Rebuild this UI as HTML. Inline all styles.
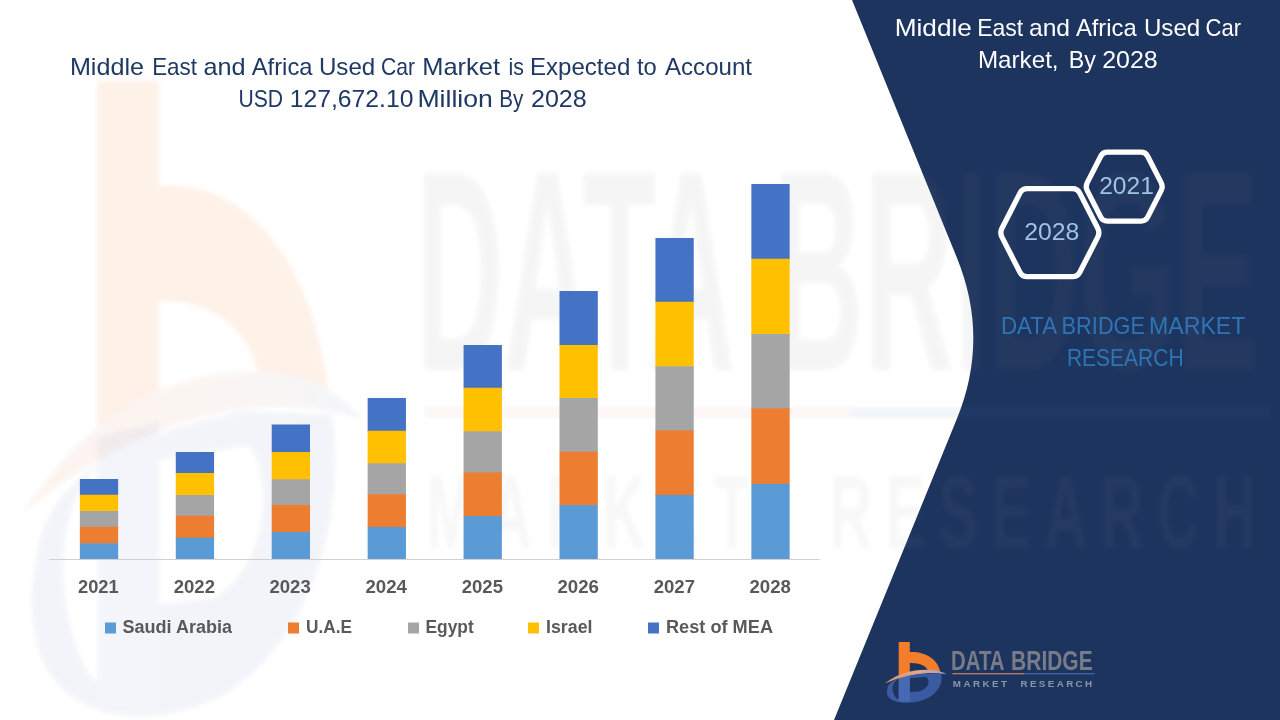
<!DOCTYPE html>
<html lang="en">
<head>
<meta charset="utf-8">
<title>Middle East and Africa Used Car Market</title>
<style>
html,body{margin:0;padding:0;background:#fff;}
body{width:1280px;height:720px;overflow:hidden;font-family:"Liberation Sans",sans-serif;}
svg{display:block;}
text{font-family:"Liberation Sans",sans-serif;}
.ttl{font-size:24px;fill:#1F3864;}
.ax text{font-size:17.5px;font-weight:bold;fill:#595959;}
.lg text{font-size:17.5px;font-weight:bold;fill:#595959;}
.rt{font-size:24px;fill:#ffffff;}
.hx{font-size:23.3px;fill:#9DC3E6;}
.db{font-size:24px;fill:#2E75B6;}
</style>
</head>
<body>
<svg width="1280" height="720" viewBox="0 0 1280 720">
<rect width="1280" height="720" fill="#ffffff"/>
<defs>
<linearGradient id="swg" x1="0" y1="0" x2="1" y2="0"><stop offset="0" stop-color="#E89268"/><stop offset="0.55" stop-color="#DDA68E"/><stop offset="1" stop-color="#9AA6C4"/></linearGradient>
<filter id="wblur" x="-2%" y="-2%" width="104%" height="104%"><feGaussianBlur stdDeviation="0.35 0.2"/></filter>
<filter id="wblur2" x="-2%" y="-2%" width="104%" height="104%"><feColorMatrix type="saturate" values="0.15"/><feGaussianBlur stdDeviation="0.35 0.2"/></filter>
<g id="markb">
<path fill-rule="evenodd" d="M887.5,688 C889,680 903,676 925,673.5 L941,673.8 C943.5,683 938,695 922,700.5 C908,704.5 893,703 888.5,697 C886.5,694 886.5,691 887.5,688 Z M909.8,678.2 L909.8,692 L920,691.3 C929.5,688 930.5,680 926,676.8 Z M892.8,686 C891.8,691 894,697 898.7,699.5 L898.7,679 C896,680 894,682 892.8,686 Z" fill="#3A5AA2"/>
<path d="M898.7,676 L909.8,674.5 L909.8,701.5 L898.7,701.8 Z" fill="#4769B4"/>
</g>
<g id="marko">
<path d="M898.7,641.9 H909.8 V652 C925,651.2 938,659 940.4,672.4 L928.4,671.6 C927,666 920,662.8 909.8,663 V673.8 L898.7,675.6 Z" fill="#F47D2C"/>
<path d="M885,683.4 Q903,668.8 930,669.8 Q940,670.3 946.5,674.3 Q938,672.9 928,673.1 Q905,674.4 885,683.4 Z" fill="url(#swg)"/>
</g>
<g id="lline">
<rect x="952.5" y="673.2" width="71.5" height="1.1" fill="#DE876C"/>
<rect x="1024" y="673.2" width="70.6" height="1.1" fill="#4A6DB5"/>
</g>
<g id="ltxt" font-family="'Liberation Sans',sans-serif">
<text x="951" y="669.75" font-size="26.9" font-weight="bold" fill="#787C89" textLength="53.6" lengthAdjust="spacingAndGlyphs">DATA</text>
<text x="1011.1" y="669.75" font-size="26.9" font-weight="bold" fill="#787C89" textLength="81.6" lengthAdjust="spacingAndGlyphs">BRIDGE</text>
<text x="952.75" y="686.5" font-size="9.8" font-weight="bold" fill="#8C95AA" textLength="54.25" lengthAdjust="spacing">MARKET</text>
<text x="1020.5" y="686.5" font-size="9.8" font-weight="bold" fill="#8C95AA" textLength="71.6" lengthAdjust="spacing">RESEARCH</text>
</g>
</defs>
<!-- right navy panel -->
<path id="panel" d="M852,0 L957,258 Q989.7,338.4 956.9,418.8 L834,720 L1280,720 L1280,0 Z" fill="#1D345E"/>
<use href="#markb" transform="matrix(5.55,0,0,10.45,-4890.3,-6627)" opacity="0.06" filter="url(#wblur)"/>
<use href="#marko" transform="matrix(5.55,0,0,10.45,-4890.3,-6627)" opacity="0.1" filter="url(#wblur)"/>
<use href="#ltxt" transform="matrix(5.95,0,0,10.63,-5242.4,-6749.4)" opacity="0.065" filter="url(#wblur2)"/>
<use href="#lline" transform="matrix(5.95,0,0,10.63,-5242.4,-6749.4)" opacity="0.07" filter="url(#wblur)"/>
<g opacity="0.999">
<!-- chart title -->
<text class="ttl" y="74.7"><tspan x="69.91" textLength="74.13" lengthAdjust="spacingAndGlyphs">Middle</tspan> <tspan x="152.2" textLength="44.8" lengthAdjust="spacingAndGlyphs">East</tspan> <tspan x="203.47" textLength="42.11" lengthAdjust="spacingAndGlyphs">and</tspan> <tspan x="251.75" textLength="60.76" lengthAdjust="spacingAndGlyphs">Africa</tspan> <tspan x="318.95" textLength="56.35" lengthAdjust="spacingAndGlyphs">Used</tspan> <tspan x="380.97" textLength="34.03" lengthAdjust="spacingAndGlyphs">Car</tspan> <tspan x="422.22" textLength="77.78" lengthAdjust="spacingAndGlyphs">Market</tspan> <tspan x="508.41" textLength="15.38" lengthAdjust="spacingAndGlyphs">is</tspan> <tspan x="529.92" textLength="100.39" lengthAdjust="spacingAndGlyphs">Expected</tspan> <tspan x="637.0" textLength="19.76" lengthAdjust="spacingAndGlyphs">to</tspan> <tspan x="665.0" textLength="87.0" lengthAdjust="spacingAndGlyphs">Account</tspan></text>
<text class="ttl" y="106.7"><tspan x="238.42" textLength="44.63" lengthAdjust="spacingAndGlyphs">USD</tspan> <tspan x="289.71" textLength="123.8" lengthAdjust="spacingAndGlyphs">127,672.10</tspan> <tspan x="417.42" textLength="75.4" lengthAdjust="spacingAndGlyphs">Million</tspan> <tspan x="499.19" textLength="24.05" lengthAdjust="spacingAndGlyphs">By</tspan> <tspan x="530.97" textLength="55.79" lengthAdjust="spacingAndGlyphs">2028</tspan></text>
<!-- bars -->
<g>
<rect x="79.85" y="479" width="38.3" height="16.35" fill="#4472C4"/>
<rect x="79.85" y="494.75" width="38.3" height="16.85" fill="#FFC000"/>
<rect x="79.85" y="511" width="38.3" height="16.35" fill="#A5A5A5"/>
<rect x="79.85" y="526.75" width="38.3" height="17.1" fill="#ED7D31"/>
<rect x="79.85" y="543.25" width="38.3" height="15.75" fill="#5B9BD5"/>
<rect x="175.78" y="452" width="38.3" height="21.6" fill="#4472C4"/>
<rect x="175.78" y="473" width="38.3" height="22.6" fill="#FFC000"/>
<rect x="175.78" y="495" width="38.3" height="21.35" fill="#A5A5A5"/>
<rect x="175.78" y="515.75" width="38.3" height="22.6" fill="#ED7D31"/>
<rect x="175.78" y="537.75" width="38.3" height="21.25" fill="#5B9BD5"/>
<rect x="271.71" y="424.5" width="38.3" height="28.1" fill="#4472C4"/>
<rect x="271.71" y="452" width="38.3" height="27.85" fill="#FFC000"/>
<rect x="271.71" y="479.25" width="38.3" height="26.35" fill="#A5A5A5"/>
<rect x="271.71" y="505" width="38.3" height="27.6" fill="#ED7D31"/>
<rect x="271.71" y="532" width="38.3" height="27.0" fill="#5B9BD5"/>
<rect x="367.64" y="398" width="38.3" height="33.35" fill="#4472C4"/>
<rect x="367.64" y="430.75" width="38.3" height="33.1" fill="#FFC000"/>
<rect x="367.64" y="463.25" width="38.3" height="31.6" fill="#A5A5A5"/>
<rect x="367.64" y="494.25" width="38.3" height="33.35" fill="#ED7D31"/>
<rect x="367.64" y="527" width="38.3" height="32.0" fill="#5B9BD5"/>
<rect x="463.57" y="345" width="38.3" height="43.35" fill="#4472C4"/>
<rect x="463.57" y="387.75" width="38.3" height="44.1" fill="#FFC000"/>
<rect x="463.57" y="431.25" width="38.3" height="41.85" fill="#A5A5A5"/>
<rect x="463.57" y="472.5" width="38.3" height="44.1" fill="#ED7D31"/>
<rect x="463.57" y="516" width="38.3" height="43.0" fill="#5B9BD5"/>
<rect x="559.5" y="291" width="38.3" height="54.6" fill="#4472C4"/>
<rect x="559.5" y="345" width="38.3" height="53.6" fill="#FFC000"/>
<rect x="559.5" y="398" width="38.3" height="54.35" fill="#A5A5A5"/>
<rect x="559.5" y="451.75" width="38.3" height="53.85" fill="#ED7D31"/>
<rect x="559.5" y="505" width="38.3" height="54.0" fill="#5B9BD5"/>
<rect x="655.43" y="238" width="38.3" height="64.35" fill="#4472C4"/>
<rect x="655.43" y="301.75" width="38.3" height="65.1" fill="#FFC000"/>
<rect x="655.43" y="366.25" width="38.3" height="64.85" fill="#A5A5A5"/>
<rect x="655.43" y="430.5" width="38.3" height="65.1" fill="#ED7D31"/>
<rect x="655.43" y="495" width="38.3" height="64.0" fill="#5B9BD5"/>
<rect x="751.36" y="184" width="38.3" height="75.35" fill="#4472C4"/>
<rect x="751.36" y="258.75" width="38.3" height="75.85" fill="#FFC000"/>
<rect x="751.36" y="334" width="38.3" height="74.85" fill="#A5A5A5"/>
<rect x="751.36" y="408.25" width="38.3" height="76.1" fill="#ED7D31"/>
<rect x="751.36" y="483.75" width="38.3" height="75.25" fill="#5B9BD5"/>
</g>
<line x1="49.5" y1="559.5" x2="819.7" y2="559.5" stroke="#D0D0D0" stroke-width="1"/>
<g class="ax">
<text x="78" y="593" textLength="40.75" lengthAdjust="spacingAndGlyphs">2021</text>
<text x="173.75" y="593" textLength="41.25" lengthAdjust="spacingAndGlyphs">2022</text>
<text x="269.5" y="593" textLength="41.25" lengthAdjust="spacingAndGlyphs">2023</text>
<text x="365.5" y="593" textLength="41.5" lengthAdjust="spacingAndGlyphs">2024</text>
<text x="461.75" y="593" textLength="41.25" lengthAdjust="spacingAndGlyphs">2025</text>
<text x="557.5" y="593" textLength="41.5" lengthAdjust="spacingAndGlyphs">2026</text>
<text x="653.75" y="593" textLength="41.25" lengthAdjust="spacingAndGlyphs">2027</text>
<text x="749.5" y="593" textLength="41.5" lengthAdjust="spacingAndGlyphs">2028</text>
</g>
<g class="lg">
<rect x="105" y="622.5" width="11" height="11" fill="#5B9BD5"/>
<text x="122.5" y="633" textLength="109.5" lengthAdjust="spacingAndGlyphs">Saudi Arabia</text>
<rect x="288" y="622.5" width="11" height="11" fill="#ED7D31"/>
<text x="306" y="633" textLength="46" lengthAdjust="spacingAndGlyphs">U.A.E</text>
<rect x="408" y="622.5" width="11" height="11" fill="#A5A5A5"/>
<text x="425.5" y="633" textLength="48.25" lengthAdjust="spacingAndGlyphs">Egypt</text>
<rect x="528" y="622.5" width="11" height="11" fill="#FFC000"/>
<text x="546" y="633" textLength="46.5" lengthAdjust="spacingAndGlyphs">Israel</text>
<rect x="648" y="622.5" width="11" height="11" fill="#4472C4"/>
<text x="666" y="633" textLength="107" lengthAdjust="spacingAndGlyphs">Rest of MEA</text>
</g>
<!-- right panel text -->
<text class="rt" y="36.3"><tspan x="894.69" textLength="77.14" lengthAdjust="spacingAndGlyphs">Middle</tspan> <tspan x="977.17" textLength="46.08" lengthAdjust="spacingAndGlyphs">East</tspan> <tspan x="1028.95" textLength="41.11" lengthAdjust="spacingAndGlyphs">and</tspan> <tspan x="1075.89" textLength="60.81" lengthAdjust="spacingAndGlyphs">Africa</tspan> <tspan x="1143.95" textLength="56.35" lengthAdjust="spacingAndGlyphs">Used</tspan> <tspan x="1205.48" textLength="35.52" lengthAdjust="spacingAndGlyphs">Car</tspan></text>
<text class="rt" y="68.3"><tspan x="977.93" textLength="80.67" lengthAdjust="spacingAndGlyphs">Market,</tspan> <tspan x="1068.66" textLength="27.13" lengthAdjust="spacingAndGlyphs">By</tspan> <tspan x="1102.17" textLength="55.56" lengthAdjust="spacingAndGlyphs">2028</tspan></text>
<!-- hexagons -->
<g fill="none" stroke="#ffffff" stroke-width="5.3" stroke-linejoin="round">
<path d="M1001.98,237.15 Q999.70,232.70 1001.98,228.25 L1019.92,193.15 Q1022.20,188.70 1027.20,188.70 L1072.50,188.70 Q1077.50,188.70 1079.78,193.15 L1097.72,228.25 Q1100.00,232.70 1097.72,237.15 L1079.78,272.25 Q1077.50,276.70 1072.50,276.70 L1027.20,276.70 Q1022.20,276.70 1019.92,272.25 Z"/>
<path d="M1087.25,190.66 Q1085.20,186.65 1087.25,182.64 L1100.75,156.21 Q1102.80,152.20 1107.30,152.20 L1141.10,152.20 Q1145.60,152.20 1147.65,156.21 L1161.15,182.64 Q1163.20,186.65 1161.15,190.66 L1147.65,217.09 Q1145.60,221.10 1141.10,221.10 L1107.30,221.10 Q1102.80,221.10 1100.75,217.09 Z"/>
</g>
<text class="hx" x="1024.2" y="240.4" textLength="55.2" lengthAdjust="spacingAndGlyphs">2028</text>
<text class="hx" x="1099.2" y="194.4" textLength="54.7" lengthAdjust="spacingAndGlyphs">2021</text>
<text class="db" y="333.7"><tspan x="1000.89" textLength="55.02" lengthAdjust="spacingAndGlyphs">DATA</tspan> <tspan x="1061.61" textLength="83.43" lengthAdjust="spacingAndGlyphs">BRIDGE</tspan> <tspan x="1148.94" textLength="96.48" lengthAdjust="spacingAndGlyphs">MARKET</tspan></text>
<text class="db" y="365.7"><tspan x="1066.93" textLength="116.63" lengthAdjust="spacingAndGlyphs">RESEARCH</tspan></text>
<use href="#markb"/><use href="#marko"/><use href="#lline"/><use href="#ltxt"/>
</g>
</svg>
</body>
</html>
